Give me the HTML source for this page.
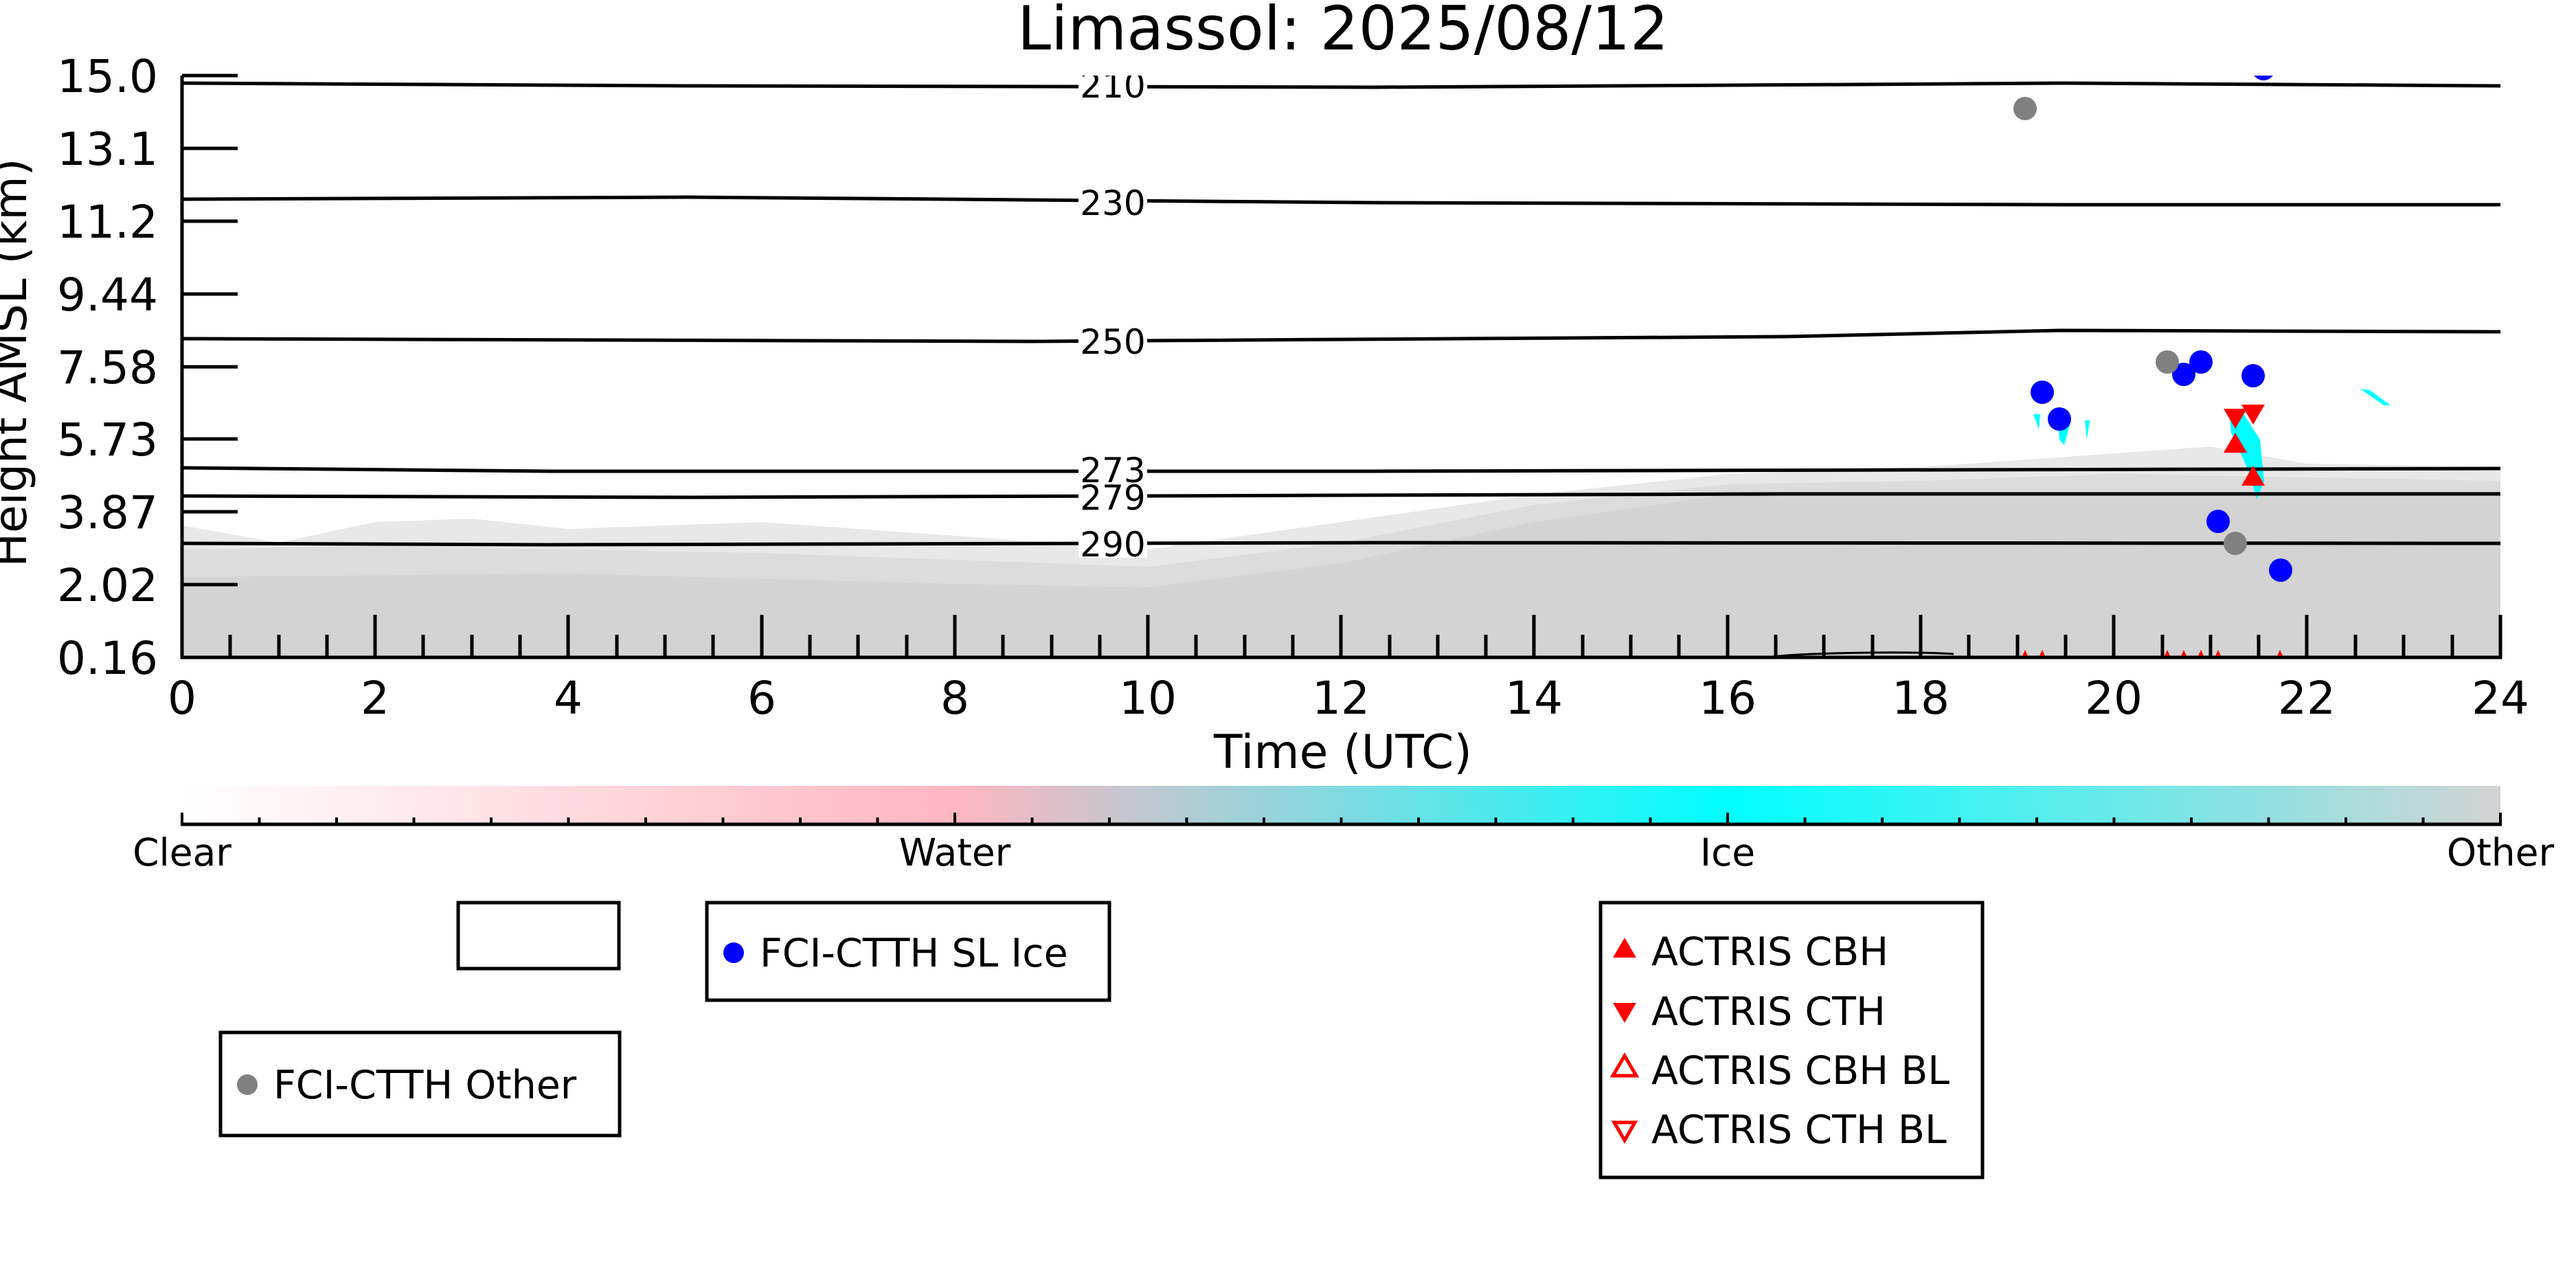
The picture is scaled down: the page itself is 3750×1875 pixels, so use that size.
<!DOCTYPE html>
<html><head><meta charset="utf-8"><style>
html,body{margin:0;padding:0;background:#fff;}
svg{display:block;font-family:"DejaVu Sans","Liberation Sans",sans-serif;}
</style></head><body>
<svg width="3750" height="1875" viewBox="0 0 3750 1875" xmlns="http://www.w3.org/2000/svg">
<defs>
<linearGradient id="cb" x1="0" x2="1" y1="0" y2="0">
<stop offset="0" stop-color="#ffffff"/>
<stop offset="0.333" stop-color="#ffb6c1"/>
<stop offset="0.667" stop-color="#00ffff"/>
<stop offset="1" stop-color="#d3d3d3"/>
</linearGradient>
<clipPath id="pc"><rect x="265" y="110" width="3375" height="847"/></clipPath>
</defs>
<text x="1955" y="72" font-size="88" text-anchor="middle">Limassol: 2025/08/12</text>
<g clip-path="url(#pc)">
<polygon fill="#e8e8e8" points="265,765 406,790 546,760 687,755 827,770 1109,760 1390,780 1671,800 1952,760 2233,720 2515,690 2796,680 3077,660 3218,650 3358,675 3640,680 3640,957 265,957"/>
<polygon fill="#dcdcdc" points="265,800 546,795 827,800 1109,805 1390,815 1671,825 1952,790 2233,735 2515,705 2796,700 3077,690 3640,700 3640,957 265,957"/>
<polygon fill="#d3d3d3" points="265,840 827,835 1390,850 1671,855 1952,820 2233,760 2515,720 3640,715 3640,957 265,957"/>
<g fill="#00ffff">
<polygon points="3245,600 3262,596 3290,640 3296,700 3285,727 3275,690 3262,660 3248,630"/>
<polygon points="2960,603 2970,603 2968,625"/>
<polygon points="2996,615 3015,612 3005,648 2998,640"/>
<polygon points="3035,612 3042,612 3038,640"/>
<polygon points="3436,566 3450,568 3480,590 3470,590"/>
</g>
<g fill="none" stroke="#000" stroke-width="5">
<polyline points="265,121 1000,125 2000,127 2700,123 3000,121 3640,125"/>
<polyline points="265,290 1000,287 2000,295 3000,298 3640,298"/>
<polyline points="265,493 1500,497 2600,490 3000,481 3640,483"/>
<polyline points="265,681 800,686 2000,686 3640,682"/>
<polyline points="265,722 1000,724 2600,719 3640,719"/>
<polyline points="265,791 800,793 2000,790 3640,791"/>
<path d="M2573,957 C2620,950 2780,948 2844,952" stroke-width="3"/>
</g>
<g font-size="50" text-anchor="middle">
<rect x="1570" y="100" width="100" height="46" fill="#fff"/><text x="1620" y="142">210</text>
<rect x="1570" y="272" width="100" height="46" fill="#fff"/><text x="1620" y="313">230</text>
<rect x="1570" y="475" width="100" height="46" fill="#fff"/><text x="1620" y="515">250</text>
<rect x="1570" y="664" width="100" height="40" fill="#fff"/><text x="1620" y="702">273</text>
<rect x="1570" y="706" width="100" height="38" fill="#fff"/><text x="1620" y="742">279</text>
<rect x="1570" y="772" width="100" height="40" fill="#fff"/><text x="1620" y="810">290</text>
</g>
<g fill="#0000ff">
<circle cx="3295" cy="100" r="17"/>
<circle cx="2973" cy="571" r="17"/><circle cx="2998" cy="610" r="17"/>
<circle cx="3179" cy="545" r="17"/><circle cx="3204" cy="527" r="17"/>
<circle cx="3280" cy="547" r="17"/><circle cx="3229" cy="759" r="17"/>
<circle cx="3320" cy="830" r="17"/>
</g>
<g fill="#808080">
<circle cx="2948" cy="158" r="17"/><circle cx="3155" cy="527" r="17"/><circle cx="3254" cy="791" r="17"/>
</g>
<g fill="#ff0000">
<polygon points="3237,595 3271,595 3254,624"/>
<polygon points="3263,589 3297,589 3280,618"/>
<polygon points="3237,659 3271,659 3254,630"/>
<polygon points="3263,707 3297,707 3280,678"/>
<polygon points="2943,957 2953,957 2948,946"/><polygon points="2968,957 2978,957 2973,946"/>
<polygon points="3150,957 3160,957 3155,946"/><polygon points="3174,957 3184,957 3179,946"/>
<polygon points="3199,957 3209,957 3204,946"/><polygon points="3224,957 3234,957 3229,946"/>
<polygon points="3314,957 3324,957 3319,946"/>
</g>
</g>
<g stroke="#000" stroke-width="5" fill="none">
<polyline points="265,110 265,957 3640,957 3640,895"/>
<line x1="265" y1="110" x2="346" y2="110"/>
<line x1="265" y1="216" x2="346" y2="216"/>
<line x1="265" y1="322" x2="346" y2="322"/>
<line x1="265" y1="428" x2="346" y2="428"/>
<line x1="265" y1="534" x2="346" y2="534"/>
<line x1="265" y1="639" x2="346" y2="639"/>
<line x1="265" y1="745" x2="346" y2="745"/>
<line x1="265" y1="851" x2="346" y2="851"/>
</g>
<g stroke="#000" stroke-width="5">
<line x1="546" y1="957" x2="546" y2="895"/><line x1="827" y1="957" x2="827" y2="895"/>
<line x1="1109" y1="957" x2="1109" y2="895"/><line x1="1390" y1="957" x2="1390" y2="895"/>
<line x1="1671" y1="957" x2="1671" y2="895"/><line x1="1952" y1="957" x2="1952" y2="895"/>
<line x1="2233" y1="957" x2="2233" y2="895"/><line x1="2515" y1="957" x2="2515" y2="895"/>
<line x1="2796" y1="957" x2="2796" y2="895"/><line x1="3077" y1="957" x2="3077" y2="895"/>
<line x1="3358" y1="957" x2="3358" y2="895"/>
</g>
<g stroke="#000" stroke-width="5">
<line x1="335" y1="957" x2="335" y2="924"/><line x1="406" y1="957" x2="406" y2="924"/><line x1="476" y1="957" x2="476" y2="924"/>
<line x1="616" y1="957" x2="616" y2="924"/><line x1="687" y1="957" x2="687" y2="924"/><line x1="757" y1="957" x2="757" y2="924"/>
<line x1="898" y1="957" x2="898" y2="924"/><line x1="968" y1="957" x2="968" y2="924"/><line x1="1038" y1="957" x2="1038" y2="924"/>
<line x1="1179" y1="957" x2="1179" y2="924"/><line x1="1249" y1="957" x2="1249" y2="924"/><line x1="1320" y1="957" x2="1320" y2="924"/>
<line x1="1460" y1="957" x2="1460" y2="924"/><line x1="1531" y1="957" x2="1531" y2="924"/><line x1="1601" y1="957" x2="1601" y2="924"/>
<line x1="1741" y1="957" x2="1741" y2="924"/><line x1="1812" y1="957" x2="1812" y2="924"/><line x1="1882" y1="957" x2="1882" y2="924"/>
<line x1="2023" y1="957" x2="2023" y2="924"/><line x1="2093" y1="957" x2="2093" y2="924"/><line x1="2163" y1="957" x2="2163" y2="924"/>
<line x1="2304" y1="957" x2="2304" y2="924"/><line x1="2374" y1="957" x2="2374" y2="924"/><line x1="2444" y1="957" x2="2444" y2="924"/>
<line x1="2585" y1="957" x2="2585" y2="924"/><line x1="2655" y1="957" x2="2655" y2="924"/><line x1="2726" y1="957" x2="2726" y2="924"/>
<line x1="2866" y1="957" x2="2866" y2="924"/><line x1="2937" y1="957" x2="2937" y2="924"/><line x1="3007" y1="957" x2="3007" y2="924"/>
<line x1="3148" y1="957" x2="3148" y2="924"/><line x1="3218" y1="957" x2="3218" y2="924"/><line x1="3288" y1="957" x2="3288" y2="924"/>
<line x1="3429" y1="957" x2="3429" y2="924"/><line x1="3499" y1="957" x2="3499" y2="924"/><line x1="3570" y1="957" x2="3570" y2="924"/>
</g>
<g font-size="66" text-anchor="end">
<text x="230" y="134">15.0</text><text x="230" y="240">13.1</text><text x="230" y="346">11.2</text>
<text x="230" y="452">9.44</text><text x="230" y="558">7.58</text><text x="230" y="663">5.73</text>
<text x="230" y="769">3.87</text><text x="230" y="875">2.02</text><text x="230" y="981">0.16</text>
</g>
<g font-size="66" text-anchor="middle">
<text x="265" y="1039">0</text><text x="546" y="1039">2</text><text x="827" y="1039">4</text>
<text x="1109" y="1039">6</text><text x="1390" y="1039">8</text><text x="1671" y="1039">10</text>
<text x="1952" y="1039">12</text><text x="2233" y="1039">14</text><text x="2515" y="1039">16</text>
<text x="2796" y="1039">18</text><text x="3077" y="1039">20</text><text x="3358" y="1039">22</text>
<text x="3640" y="1039">24</text>
<text x="1955" y="1118" font-size="68">Time (UTC)</text>
<text transform="translate(38,528) rotate(-90)" font-size="66">Height AMSL (km)</text>
</g>
<rect x="265" y="1144" width="3375" height="56" fill="url(#cb)"/>
<line x1="263" y1="1200" x2="3642" y2="1200" stroke="#000" stroke-width="5"/>
<g stroke="#000" stroke-width="4">
<line x1="265" y1="1200" x2="265" y2="1183"/><line x1="377.5" y1="1200" x2="377.5" y2="1190"/><line x1="490" y1="1200" x2="490" y2="1190"/><line x1="602.5" y1="1200" x2="602.5" y2="1190"/><line x1="715" y1="1200" x2="715" y2="1190"/><line x1="827.5" y1="1200" x2="827.5" y2="1190"/><line x1="940" y1="1200" x2="940" y2="1190"/><line x1="1052.5" y1="1200" x2="1052.5" y2="1190"/><line x1="1165" y1="1200" x2="1165" y2="1190"/><line x1="1277.5" y1="1200" x2="1277.5" y2="1190"/>
<line x1="1390" y1="1200" x2="1390" y2="1183"/><line x1="1502.5" y1="1200" x2="1502.5" y2="1190"/><line x1="1615" y1="1200" x2="1615" y2="1190"/><line x1="1727.5" y1="1200" x2="1727.5" y2="1190"/><line x1="1840" y1="1200" x2="1840" y2="1190"/><line x1="1952.5" y1="1200" x2="1952.5" y2="1190"/><line x1="2065" y1="1200" x2="2065" y2="1190"/><line x1="2177.5" y1="1200" x2="2177.5" y2="1190"/><line x1="2290" y1="1200" x2="2290" y2="1190"/><line x1="2402.5" y1="1200" x2="2402.5" y2="1190"/>
<line x1="2515" y1="1200" x2="2515" y2="1183"/><line x1="2627.5" y1="1200" x2="2627.5" y2="1190"/><line x1="2740" y1="1200" x2="2740" y2="1190"/><line x1="2852.5" y1="1200" x2="2852.5" y2="1190"/><line x1="2965" y1="1200" x2="2965" y2="1190"/><line x1="3077.5" y1="1200" x2="3077.5" y2="1190"/><line x1="3190" y1="1200" x2="3190" y2="1190"/><line x1="3302.5" y1="1200" x2="3302.5" y2="1190"/><line x1="3415" y1="1200" x2="3415" y2="1190"/><line x1="3527.5" y1="1200" x2="3527.5" y2="1190"/>
<line x1="3640" y1="1200" x2="3640" y2="1183"/>
</g>
<g font-size="55" text-anchor="middle">
<text x="265" y="1260">Clear</text><text x="1390" y="1260">Water</text>
<text x="2515" y="1260">Ice</text><text x="3640" y="1260">Other</text>
</g>
<g fill="none" stroke="#000" stroke-width="5">
<rect x="667" y="1314" width="234" height="96"/>
<rect x="1029" y="1314" width="586" height="142"/>
<rect x="321" y="1503" width="581" height="150"/>
<rect x="2330" y="1314" width="556" height="400"/>
</g>
<circle cx="1068" cy="1387" r="15" fill="#0000ff"/>
<text x="1106" y="1407" font-size="57">FCI-CTTH SL Ice</text>
<circle cx="360" cy="1579" r="15" fill="#808080"/>
<text x="398" y="1599" font-size="57">FCI-CTTH Other</text>
<g fill="#ff0000">
<polygon points="2348,1394 2382,1394 2365,1365"/>
<polygon points="2348,1460 2382,1460 2365,1489"/>
<polygon points="2348,1566 2382,1566 2365,1537" fill="none" stroke="#ff0000" stroke-width="5"/>
<polygon points="2350,1634 2380,1634 2365,1660" fill="none" stroke="#ff0000" stroke-width="5"/>
</g>
<g font-size="57">
<text x="2404" y="1405">ACTRIS CBH</text>
<text x="2404" y="1492">ACTRIS CTH</text>
<text x="2404" y="1578">ACTRIS CBH BL</text>
<text x="2404" y="1664">ACTRIS CTH BL</text>
</g>
</svg>
</body></html>
